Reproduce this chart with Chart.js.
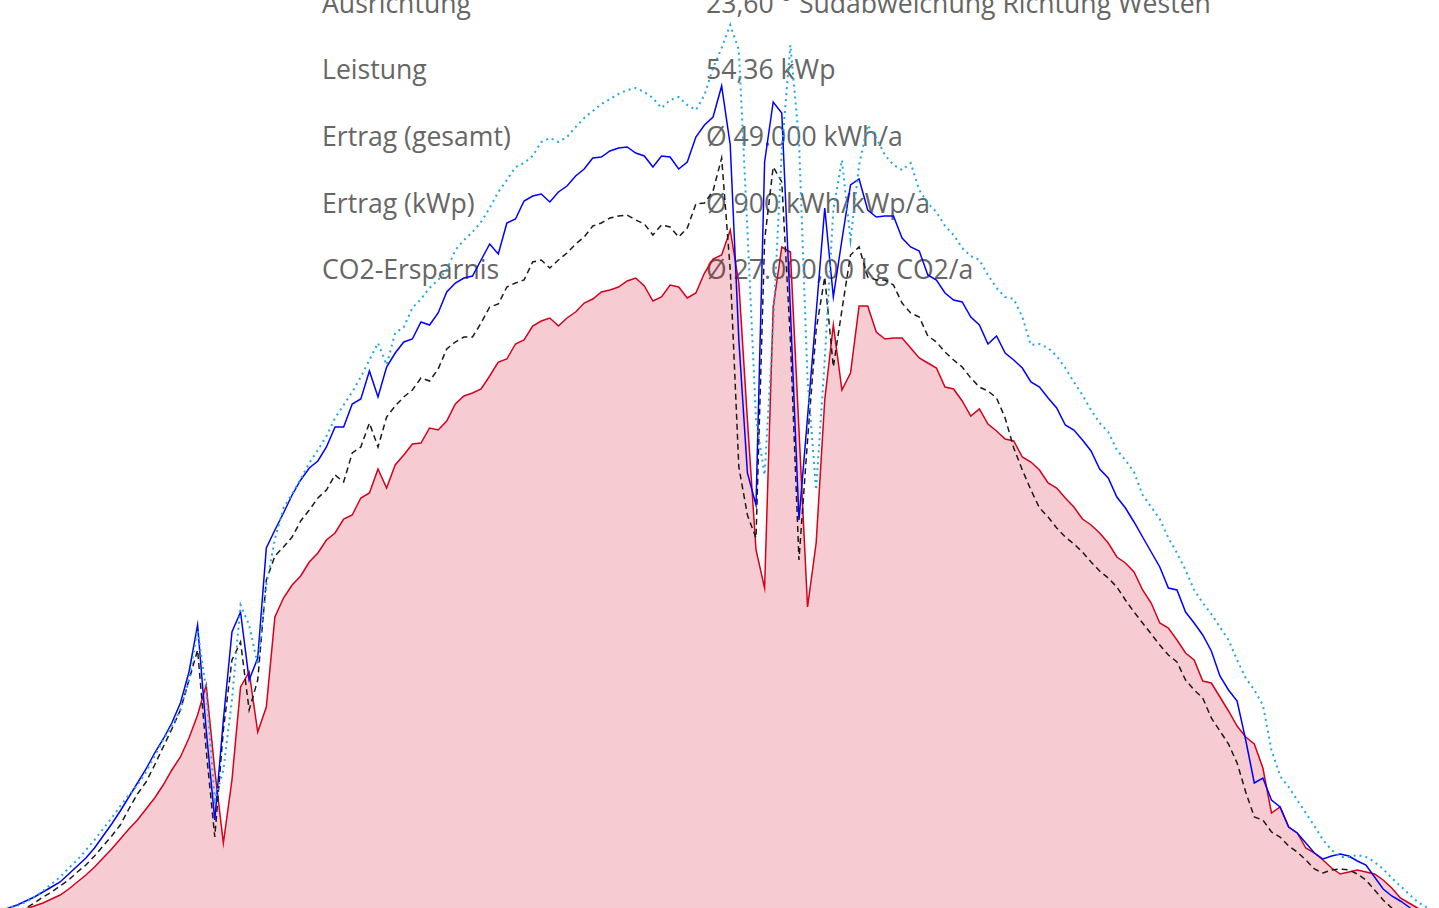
<!DOCTYPE html>
<html lang="de">
<head>
<meta charset="utf-8">
<title>Ertrag</title>
<script src="https://cdn.jsdelivr.net/npm/chart.js@4"></script>
<style>
  html, body { margin: 0; padding: 0; background: #fff; overflow: hidden; }
  body { width: 1439px; height: 908px; position: relative; }
  #wrap { position: absolute; left: 0; top: 0; width: 1439px; height: 960px; }
  #chart { display: block; }
  .info { position: absolute; top: -30.5px; font-family: "Open Sans", sans-serif; font-size: 26.6px; line-height: 66.67px; color: #666; white-space: nowrap; }
  #labels { left: 322px; }
  #werte { left: 706px; }
</style>
</head>
<body>
<div class="info" id="labels"></div>
<div class="info" id="werte"></div>
<div id="wrap"><canvas id="chart" width="1439" height="960"></canvas></div>
<script>
const infoLabels = ["Ausrichtung", "Leistung", "Ertrag (gesamt)", "Ertrag (kWp)", "CO2-Ersparnis"];
const infoWerte = ["23,60 ° Südabweichung Richtung Westen", "54,36 kWp", "Ø 49.000 kWh/a", "Ø 900 kWh/kWp/a", "Ø 27.000,00 kg CO2/a"];

// tage 0..167
const tage = Array.from({ length: 168 }, (_, i) => i);

// rot, gefuellt
const istWerte = [
  -0.9, -0.6, -0.3, -0.1, 0.2, 0.5, 0.9, 1.3, 1.9, 2.6,
  3.3, 4.1, 5.0, 5.9, 6.9, 7.9, 8.8, 9.9, 11.0, 12.3,
  13.8, 15.1, 17.0, 19.3, 22.3, 13.8, 6.5, 12.8, 22.1, 23.6,
  17.6, 20.1, 29.1, 31.0, 32.3, 33.2, 34.6, 35.5, 36.8, 37.5,
  38.9, 39.3, 41.0, 41.5, 43.9, 42.0, 44.3, 45.3, 46.4, 46.5,
  48.0, 47.8, 48.7, 50.4, 51.2, 51.5, 51.9, 53.2, 54.6, 54.9,
  56.4, 56.8, 58.2, 58.7, 59.0, 58.2, 59.0, 59.6, 60.5, 60.9,
  61.6, 61.8, 62.1, 62.7, 63.0, 62.2, 60.7, 61.1, 62.3, 62.1,
  61.0, 61.5, 63.5, 64.9, 65.3, 67.8, 62.5, 48.8, 35.8, 32.0,
  60.1, 66.1, 65.6, 47.8, 30.1, 36.5, 50.8, 58.3, 51.8, 53.5,
  60.2, 60.2, 57.6, 56.9, 57.0, 57.0, 56.0, 55.0, 54.5, 54.0,
  52.1, 51.9, 50.7, 49.2, 49.9, 48.4, 47.7, 46.9, 46.7, 45.1,
  44.6, 43.8, 42.5, 42.0, 41.0, 40.1, 38.9, 38.3, 37.5, 36.5,
  35.1, 34.5, 33.6, 31.8, 30.5, 28.5, 28.0, 26.8, 25.5, 24.8,
  22.7, 22.5, 21.1, 19.7, 18.2, 17.1, 16.4, 14.0, 9.5, 10.1,
  8.1, 7.5, 6.0, 5.5, 4.8, 4.0, 3.4, 3.6, 3.8, 3.6,
  3.4, 2.8, 2.0, 1.0, 0.5, 0.0, -0.5, -1.0
];

// blau
const sollWerte = [
  -0.4, 0.0, 0.3, 0.7, 1.1, 1.6, 2.1, 2.6, 3.4, 4.2,
  5.0, 6.0, 7.2, 8.4, 9.7, 11.1, 12.5, 13.9, 15.5, 16.9,
  18.5, 20.5, 23.6, 28.3, 17.8, 8.8, 18.8, 27.6, 29.6, 22.8,
  25.0, 36.0, 37.8, 39.5, 41.3, 42.8, 44.0, 44.7, 46.1, 48.1,
  48.1, 50.4, 50.9, 53.7, 51.1, 54.1, 55.5, 56.6, 56.9, 58.6,
  58.3, 59.5, 61.6, 62.5, 63.0, 63.2, 64.8, 66.4, 65.4, 68.5,
  68.9, 70.7, 71.2, 71.4, 70.6, 71.6, 72.2, 73.2, 73.9, 75.0,
  75.1, 75.7, 76.0, 76.1, 75.5, 75.2, 74.1, 75.2, 75.1, 73.9,
  74.6, 77.1, 78.3, 79.1, 82.2, 76.3, 56.8, 43.5, 40.3, 74.6,
  80.6, 79.5, 59.8, 38.8, 49.1, 59.5, 70.0, 61.1, 66.8, 72.3,
  72.9, 69.8, 69.1, 69.2, 69.2, 67.0, 66.1, 65.7, 63.3, 62.8,
  61.5, 60.8, 60.6, 59.1, 58.3, 56.4, 57.2, 55.5, 54.8, 54.0,
  52.6, 52.1, 51.0, 50.0, 48.3, 47.8, 46.8, 45.7, 43.9, 43.0,
  41.1, 40.0, 38.6, 37.1, 35.6, 34.1, 32.0, 31.8, 29.6, 28.5,
  27.3, 25.7, 23.2, 21.8, 20.7, 16.8, 12.5, 13.0, 10.8, 10.1,
  8.1, 7.5, 6.5, 5.5, 4.9, 5.2, 5.4, 5.2, 4.7, 4.3,
  3.1, 1.9, 1.2, 0.7, 0.1, -0.5, -1.0, -1.5
];

// schwarz gestrichelt
const prognoseWerte = [
  -1.0, -0.6, -0.3, 0.0, 0.5, 1.1, 1.6, 2.2, 2.8, 3.6,
  4.3, 5.2, 6.2, 7.2, 8.3, 9.9, 11.4, 12.6, 14.3, 16.1,
  17.9, 19.8, 22.8, 25.8, 15.8, 7.1, 17.8, 24.8, 26.6, 19.8,
  22.8, 32.8, 35.2, 36.1, 37.1, 38.7, 39.8, 41.0, 41.8, 43.3,
  42.6, 45.5, 46.1, 48.5, 46.1, 49.1, 50.2, 51.1, 51.8, 53.0,
  52.7, 53.9, 55.9, 56.6, 57.1, 57.1, 58.5, 60.1, 60.4, 62.1,
  62.5, 62.8, 64.6, 64.8, 64.0, 64.8, 65.5, 66.4, 67.1, 68.2,
  68.5, 69.0, 69.2, 69.3, 68.8, 68.4, 67.3, 68.3, 68.1, 67.1,
  68.0, 70.4, 70.5, 71.7, 75.0, 63.8, 44.1, 39.3, 37.0, 66.8,
  74.1, 72.6, 56.8, 34.8, 46.8, 57.8, 63.1, 54.1, 59.8, 65.3,
  66.1, 63.1, 62.8, 62.8, 62.3, 60.5, 59.5, 59.1, 57.2, 56.6,
  55.6, 54.8, 54.1, 53.0, 52.1, 51.7, 51.0, 49.0, 46.0, 43.8,
  41.8, 40.0, 39.1, 38.0, 37.1, 36.4, 35.6, 34.6, 33.7, 33.0,
  32.1, 30.8, 29.6, 28.5, 27.4, 26.3, 25.3, 24.6, 22.8, 21.8,
  21.0, 19.0, 17.7, 16.4, 14.5, 11.6, 9.1, 8.8, 7.6, 7.1,
  6.2, 5.6, 4.8, 3.9, 3.5, 3.8, 3.9, 3.8, 3.4, 2.8,
  1.8, 0.8, 0.0, -0.8, -1.5, -2.0, -2.5, -3.0
];

// hellblau gepunktet
const maxWerte = [
  -0.3, 0.0, 0.2, 0.6, 1.1, 1.7, 2.4, 3.1, 4.0, 4.8,
  5.8, 6.8, 7.9, 9.0, 10.2, 11.3, 12.3, 13.6, 15.2, 16.8,
  18.2, 19.8, 22.8, 27.8, 21.8, 10.8, 13.8, 20.8, 30.3, 28.3,
  24.3, 32.3, 36.9, 40.0, 41.4, 42.9, 44.5, 45.8, 47.2, 49.0,
  50.3, 51.6, 53.1, 54.8, 56.5, 54.3, 57.5, 58.1, 60.0, 60.9,
  62.0, 62.8, 63.8, 65.8, 66.8, 67.6, 68.6, 70.0, 71.6, 72.8,
  74.1, 74.5, 75.2, 76.6, 77.0, 76.6, 77.1, 78.1, 79.0, 79.7,
  80.4, 80.9, 81.4, 81.8, 82.0, 81.6, 81.0, 80.0, 80.8, 81.1,
  80.3, 79.8, 81.3, 84.0, 86.0, 88.3, 85.8, 67.8, 48.8, 43.3,
  58.3, 75.8, 86.3, 76.8, 52.8, 41.8, 54.8, 69.8, 74.8, 66.8,
  74.3, 78.3, 77.0, 75.3, 74.3, 73.8, 74.5, 71.8, 70.5, 69.6,
  68.2, 67.3, 66.0, 65.2, 64.8, 63.3, 62.0, 61.1, 60.9, 59.1,
  56.3, 56.4, 56.0, 55.2, 54.0, 52.6, 51.3, 49.8, 48.5, 47.6,
  45.8, 44.8, 43.6, 41.3, 40.1, 38.9, 37.0, 35.5, 33.8, 31.8,
  30.5, 29.4, 28.1, 26.8, 24.8, 23.0, 21.8, 20.3, 15.8, 13.2,
  12.1, 10.8, 9.5, 8.2, 6.8, 5.8, 5.1, 5.1, 5.3, 5.1,
  4.6, 3.9, 3.0, 2.2, 1.4, 0.6, 0.1, -0.4
];

document.getElementById("labels").innerHTML = infoLabels.map(t => "<div>" + t + "</div>").join("");
document.getElementById("werte").innerHTML = infoWerte.map(t => "<div>" + t + "</div>").join("");

const ctx = document.getElementById("chart");

new Chart(ctx, {
  type: "line",
  data: {
    labels: tage,
    datasets: [
      {
        label: "Maximum",
        data: maxWerte,
        borderColor: "#1fa8e0",
        borderWidth: 2,
        borderDash: [2, 4],
        fill: false,
      },
      {
        label: "Soll",
        data: sollWerte,
        borderColor: "#0000ff",
        borderWidth: 1.5,
        fill: false,
      },
      {
        label: "Prognose",
        data: prognoseWerte,
        borderColor: "#1a1a1a",
        borderWidth: 1.5,
        borderDash: [6, 4],
        fill: false,
      },
      {
        label: "Ist",
        data: istWerte,
        borderColor: "#d4001c",
        backgroundColor: "rgba(212, 0, 28, 0.2)",
        borderWidth: 1.5,
        fill: "origin",
      },
    ],
  },
  options: {
    responsive: false,
    animation: false,
    layout: { padding: 0 },
    elements: { point: { radius: 0 }, line: { tension: 0 } },
    plugins: { legend: { display: false }, tooltip: { enabled: false } },
    scales: {
      x: { type: "linear", display: false, min: 0, max: 167.5 },
      y: { display: false, min: -5.2, max: 90.8 },
    },
  },
});
</script>
</body>
</html>
